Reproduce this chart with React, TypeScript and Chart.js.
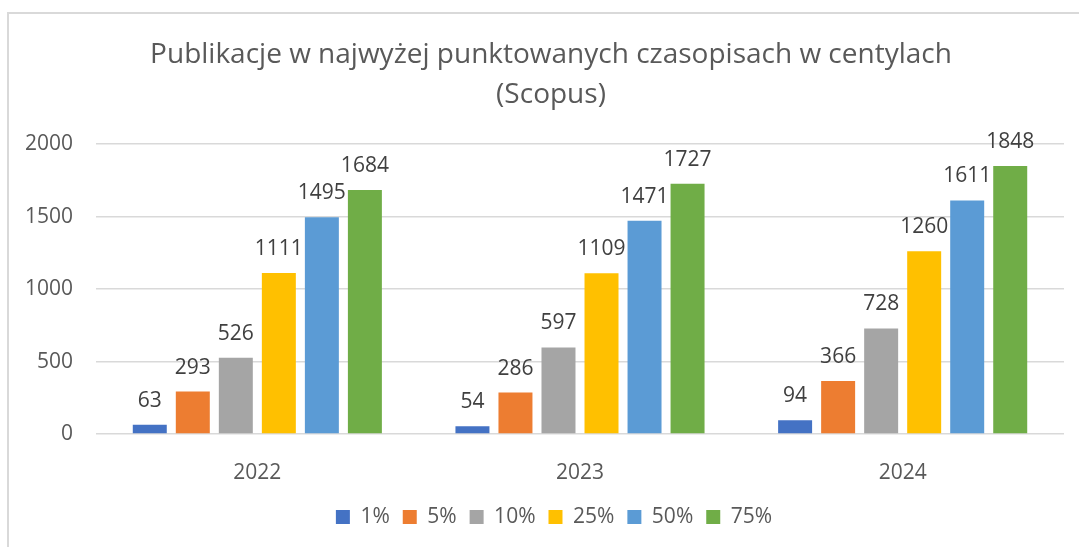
import React, { useEffect, useRef } from "react";
import { Chart, registerables } from "chart.js";

Chart.register(...registerables);

const categories = ["2022", "2023", "2024"];
const seriesNames = ["1%", "5%", "10%", "25%", "50%", "75%"];
const series1 = [63, 54, 94];
const series5 = [293, 286, 366];
const series10 = [526, 597, 728];
const series25 = [1111, 1109, 1260];
const series50 = [1495, 1471, 1611];
const series75 = [1684, 1727, 1848];
const seriesColors = ["#4472C4", "#ED7D31", "#A5A5A5", "#FFC000", "#5B9BD5", "#70AD47"];
const titleLines = ["Publikacje w najwyżej punktowanych czasopisach w centylach", "(Scopus)"];
const yMin = 0;
const yMax = 2000;
const yStep = 500;

const FONT = "'Open Sans', 'DejaVu Sans', sans-serif";

const dataLabelPlugin = {
  id: "dataLabels",
  afterDatasetsDraw(chart: any) {
    const ctx = chart.ctx;
    ctx.save();
    ctx.font = `21px ${FONT}`;
    ctx.fillStyle = "#404040";
    ctx.textAlign = "center";
    ctx.textBaseline = "alphabetic";
    chart.data.datasets.forEach((ds: any, i: number) => {
      const meta = chart.getDatasetMeta(i);
      meta.data.forEach((el: any, j: number) => {
        ctx.fillText(String(ds.data[j]), el.x, el.y - 18);
      });
    });
    ctx.restore();
  },
};

const shiftPlugin = {
  id: "shiftBlocks",
  afterLayout(chart: any) {
    const t = chart.titleBlock;
    if (t) {
      t.left += 19;
      t.right += 19;
    }
    const l = chart.legend;
    if (l) {
      l.left += 22;
      l.right += 22;
    }
  },
};

export default function App() {
  const ref = useRef<HTMLCanvasElement | null>(null);
  useEffect(() => {
    if (!ref.current) return;
    const all = [series1, series5, series10, series25, series50, series75];
    const chart = new Chart(ref.current, {
      type: "bar",
      data: {
        labels: categories,
        datasets: all.map((d, i) => ({
          label: seriesNames[i],
          data: d,
          backgroundColor: seriesColors[i],
          borderWidth: 0,
          categoryPercentage: 0.8,
          barPercentage: 0.79,
        })),
      },
      options: {
        animation: false,
        responsive: false,
        maintainAspectRatio: false,
        layout: { padding: { left: 0, right: 15, top: 0, bottom: 9.5 } },
        scales: {
          x: {
            grid: { display: false },
            border: { display: false },
            ticks: { color: "#595959", font: { family: FONT, size: 21 }, padding: 18 },
            afterFit: (s: any) => {
              s.height = 59.5;
            },
          },
          y: {
            min: yMin,
            max: yMax,
            ticks: {
              stepSize: yStep,
              color: "#595959",
              font: { family: FONT, size: 21 },
              padding: 23,
              callback: (v: any) => String(v),
            },
            grid: { color: "#D9D9D9", lineWidth: 1.5, drawTicks: false },
            border: { display: false },
            afterFit: (s: any) => {
              s.width = 96;
            },
          },
        },
        plugins: {
          title: {
            display: true,
            text: titleLines,
            color: "#595959",
            font: { family: FONT, size: 28, weight: "normal", lineHeight: 1.43 },
            padding: { top: 35, bottom: 29 },
          },
          legend: {
            position: "bottom",
            labels: {
              boxWidth: 14,
              boxHeight: 14,
              color: "#595959",
              font: { family: FONT, size: 21 },
              padding: 13,
            },
          },
          tooltip: { enabled: false },
        },
      },
      plugins: [dataLabelPlugin, shiftPlugin],
    });
    return () => chart.destroy();
  }, []);
  return (
    <div style={{ position: "absolute", left: 0, top: 0, width: 1079, height: 547, overflow: "hidden", background: "#fff" }}>
      <div
        style={{
          position: "absolute",
          left: 7,
          top: 12,
          width: 1200,
          height: 700,
          border: "2px solid #D9D9D9",
          boxSizing: "border-box",
        }}
      />
      <canvas ref={ref} width={1079} height={547} style={{ position: "absolute", left: 0, top: 0 }} />
    </div>
  );
}
